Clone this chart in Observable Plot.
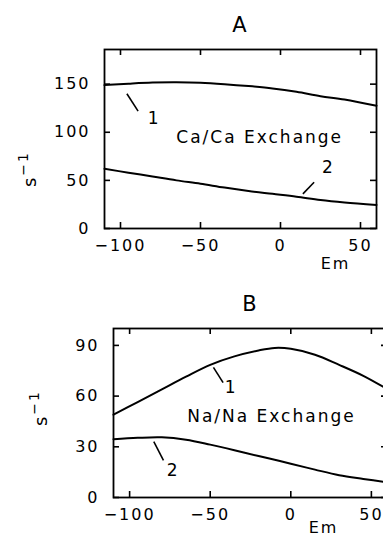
<!DOCTYPE html>
<html>
<head>
<meta charset="utf-8">
<script src="https://cdn.jsdelivr.net/npm/d3@7"></script>
<script src="https://cdn.jsdelivr.net/npm/@observablehq/plot@0.6"></script>
<style>
  html, body { margin: 0; padding: 0; background: #fff; }
  #wrap { position: relative; width: 383px; height: 538px; overflow: hidden; background: #fff; }
  #wrap > svg { position: absolute; max-width: none !important; overflow: visible; }
  svg { font-family: "DejaVu Sans", sans-serif; }
  svg text { letter-spacing: 2px; }
</style>
</head>
<body>
<div id="wrap"></div>
<script>
// ---- Data ----
const xTicks = [-100, -50, 0, 50];

// Panel A: Ca/Ca exchange
const emA = [-110, -95, -80, -65, -50, -35, -20, -5, 10, 25, 40, 60];
const caCurve1 = [149, 150.5, 151.7, 152, 151.5, 150, 148, 145.5, 142, 137.5, 134, 127.5];
const caCurve2 = [62, 58, 54, 50, 46.5, 42.5, 39, 36, 33, 29.5, 27, 24.5];
const yTicksA = [0, 50, 100, 150];

// Panel B: Na/Na exchange
const emB = [-110, -95, -80, -65, -50, -35, -20, -10, 0, 15, 30, 45, 60];
const naCurve1 = [49, 56.5, 64, 71.5, 78.5, 83.5, 87, 88.5, 88, 84.5, 78.5, 72, 64];
const naCurve2 = [34.5, 35.3, 35.6, 34.2, 31.3, 28, 24.5, 22.3, 20, 16.5, 13.2, 11, 9];
const yTicksB = [0, 30, 60, 90];

// Annotations (data coordinates)
const labelsA = [
  {x: -79, y: 114, text: "1"},
  {x: 30, y: 63, text: "2"},
  {x: -13, y: 94, text: "Ca/Ca Exchange"}
];
const leadersA = [
  {x1: -96, y1: 140, x2: -89, y2: 122},
  {x1: 14, y1: 36, x2: 21, y2: 48}
];
const labelsB = [
  {x: -37, y: 65, text: "1"},
  {x: -73, y: 16, text: "2"},
  {x: -12, y: 48, text: "Na/Na Exchange"}
];
const leadersB = [
  {x1: -48, y1: 77, x2: -42, y2: 68},
  {x1: -85, y1: 33, x2: -79, y2: 22}
];

const fmt = d => d < 0 ? "\u2212" + Math.abs(d) : String(d);

function panel({title, em, c1, c2, yDomain, yTicks, labels, leaders, width, height, ml, mr, mt, mb, emDx, emDy, sDx, sDy}) {
  const fw = width - ml - mr, fh = height - mt - mb;
  const rows1 = em.map((x, i) => ({x, y: c1[i]}));
  const rows2 = em.map((x, i) => ({x, y: c2[i]}));
  const svg = Plot.plot({
    width, height,
    marginLeft: ml, marginRight: mr, marginTop: mt, marginBottom: mb,
    style: {fontFamily: "DejaVu Sans, sans-serif", fontSize: "16px", color: "#000", background: "transparent", overflow: "visible"},
    x: {domain: [-110, 60]},
    y: {domain: yDomain},
    marks: [
      Plot.tickX(xTicks, {x: d => d, insetTop: fh - 6, stroke: "#000", strokeWidth: 1.6}),
      Plot.tickX(xTicks, {x: d => d, insetBottom: fh - 6, stroke: "#000", strokeWidth: 1.6}),
      Plot.tickY(yTicks, {y: d => d, insetRight: fw - 6, stroke: "#000", strokeWidth: 1.6}),
      Plot.tickY(yTicks, {y: d => d, insetLeft: fw - 6, stroke: "#000", strokeWidth: 1.6}),
      Plot.axisX(xTicks, {tickSize: 0, tickPadding: 11, tickFormat: fmt, label: null, fontSize: 16, fill: "#000"}),
      Plot.axisY(yTicks, {tickSize: 0, tickPadding: 14, tickFormat: fmt, label: null, fontSize: 16, fill: "#000"}),
      Plot.frame({stroke: "#000", strokeWidth: 1.8}),
      Plot.line(rows1, {x: "x", y: "y", curve: "catmull-rom", stroke: "#000", strokeWidth: 2}),
      Plot.line(rows2, {x: "x", y: "y", curve: "catmull-rom", stroke: "#000", strokeWidth: 2}),
      Plot.link(leaders, {x1: "x1", y1: "y1", x2: "x2", y2: "y2", stroke: "#000", strokeWidth: 1.6}),
      Plot.text(labels, {x: "x", y: "y", text: "text", fill: "#000", fontSize: 17}),
      Plot.text([title], {frameAnchor: "top", lineAnchor: "middle", dy: -24, fill: "#000", fontSize: 21}),
      Plot.text(["Em"], {frameAnchor: "bottom-right", textAnchor: "middle", lineAnchor: "middle", dx: emDx, dy: emDy, fill: "#000", fontSize: 16}),
      Plot.text(["s"], {frameAnchor: "left", textAnchor: "middle", lineAnchor: "middle", dx: sDx, dy: sDy, rotate: -90, fill: "#000", fontSize: 18})
    ]
  });
  // superscript on the rotated unit label
  svg.querySelectorAll("text").forEach(el => {
    if (el.textContent === "s" && el.getAttribute("transform") && el.getAttribute("transform").includes("rotate")) {
      const ts = document.createElementNS("http://www.w3.org/2000/svg", "tspan");
      ts.setAttribute("dy", "-8");
      ts.setAttribute("font-size", "14");
      ts.setAttribute("fill", "#000");
      ts.textContent = "\u2212" + "1";
      el.appendChild(ts);
    }
  });
  return svg;
}

const wrap = document.getElementById("wrap");

const a = panel({
  title: "A", em: emA, c1: caCurve1, c2: caCurve2,
  yDomain: [0, 186], yTicks: yTicksA, labels: labelsA, leaders: leadersA,
  width: 383, height: 268, ml: 104, mr: 7, mt: 49, mb: 40,
  emDx: -41, emDy: 35, sDx: -74, sDy: 30
});
a.style.left = "0px"; a.style.top = "0px";
wrap.appendChild(a);

const b = panel({
  title: "B", em: emB, c1: naCurve1, c2: naCurve2,
  yDomain: [0, 100], yTicks: yTicksB, labels: labelsB, leaders: leadersB,
  width: 400, height: 270, ml: 113, mr: 13, mt: 60, mb: 41,
  emDx: -64, emDy: 30, sDx: -72, sDy: -5
});
b.style.left = "0px"; b.style.top = "268px";
wrap.appendChild(b);
</script>
</body>
</html>
